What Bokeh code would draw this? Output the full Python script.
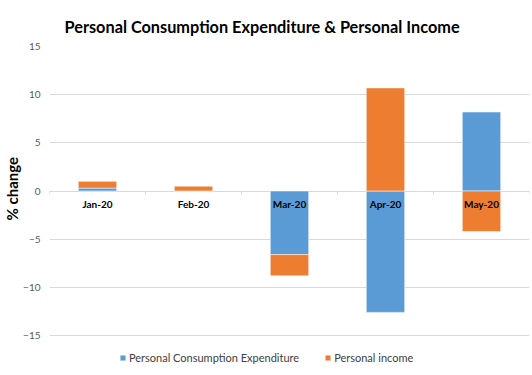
import numpy as np
from bokeh.plotting import figure
from bokeh.models import Range1d, Legend, LegendItem, ColumnDataSource, FixedTicker, Title
from bokeh.embed import file_html
from bokeh.resources import INLINE
from bokeh.core.properties import value

# ---- data ----
months = ["Jan-20", "Feb-20", "Mar-20", "Apr-20", "May-20"]
pce = [0.3, 0.0, -6.6, -12.6, 8.2]          # Personal Consumption Expenditure
income = [0.7, 0.5, -2.2, 10.7, -4.2]       # Personal income
y_ticks = [-15, -10, -5, 0, 5, 10, 15]
series_names = ["Personal Consumption Expenditure", "Personal income"]

BLUE = "#5B9BD5"
ORANGE = "#ED7D31"
FONT = "Lato"

n = len(months)
xc = np.arange(n) + 0.5

# Excel-style stacking: positives and negatives stack separately
pos = np.zeros(n)
neg = np.zeros(n)


def stack(vals):
    v = np.array(vals, dtype=float)
    bottom = np.where(v >= 0, pos, neg)
    top = bottom + v
    pos[:] = np.where(v >= 0, top, pos)
    neg[:] = np.where(v < 0, top, neg)
    return bottom, top


b1, t1 = stack(pce)
b2, t2 = stack(income)

# frame runs from y=46 to y=372 px; extra room below -15 holds the legend
p = figure(width=532, height=375, x_range=Range1d(0, n), y_range=Range1d(-18.84, 15),
           x_axis_location=None, toolbar_location=None, output_backend="svg",
           min_border_left=47, min_border_right=3, min_border_top=46, min_border_bottom=3)
p.outline_line_color = None

p.title.text = "Personal Consumption Expenditure & Personal Income"
p.title.text_font = FONT
p.title.text_font_size = "16.3px"
p.title.text_font_style = "bold"
p.title.text_color = "black"
p.title.align = "left"
p.title.offset = 15
p.title.standoff = 21

ax = p.yaxis[0]
ax.ticker = FixedTicker(ticks=y_ticks)
ax.axis_line_color = None
ax.major_tick_line_color = None
ax.minor_tick_line_color = None
ax.major_tick_out = 0
ax.major_tick_in = 0
ax.minor_tick_out = 0
ax.minor_tick_in = 0
ax.major_label_standoff = 9
ax.major_label_text_font = FONT
ax.major_label_text_font_size = "10px"
ax.major_label_text_color = "#595959"

ylab = Title(text="% change", align="left", offset=152, standoff=0,
             text_font=FONT, text_font_size="15px", text_font_style="bold",
             text_color="black", text_line_height=0.85)
p.add_layout(ylab, "left")

p.ygrid.ticker = FixedTicker(ticks=y_ticks)
p.ygrid.grid_line_color = "#D9D9D9"
p.xgrid.grid_line_color = None

src1 = ColumnDataSource(dict(x=xc, bottom=b1, top=t1))
src2 = ColumnDataSource(dict(x=xc, bottom=b2, top=t2))
r1 = p.vbar(x="x", width=0.4, bottom="bottom", top="top", source=src1,
            fill_color=BLUE, line_color="white", line_alpha=0.5, line_width=1)
r2 = p.vbar(x="x", width=0.4, bottom="bottom", top="top", source=src2,
            fill_color=ORANGE, line_color="white", line_alpha=0.5, line_width=1)

# category tick marks on the zero line
bx = np.arange(n + 1)
p.segment(x0=bx, y0=np.zeros(n + 1), x1=bx, y1=np.full(n + 1, -0.35),
          line_color="#D9D9D9", line_width=1)

# category labels just below zero line
p.text(x=xc, y=np.zeros(n), text=months, text_align="center", text_baseline="middle",
       y_offset=13, text_font=value(FONT), text_font_size="10px",
       text_font_style="bold", text_color="black")

legend = Legend(items=[LegendItem(label=series_names[0], renderers=[r1]),
                       LegendItem(label=series_names[1], renderers=[r2])],
                location=(70, 8), orientation="horizontal")
legend.border_line_color = None
legend.background_fill_alpha = 0
legend.padding = 0
legend.margin = 0
legend.spacing = 25
legend.glyph_width = 7
legend.glyph_height = 7
legend.label_height = 14
legend.label_standoff = 3
legend.label_text_font = FONT
legend.label_text_font_size = "11px"
legend.label_text_color = "#404040"
p.add_layout(legend)

open("out.html", "w").write(file_html(p, INLINE))
